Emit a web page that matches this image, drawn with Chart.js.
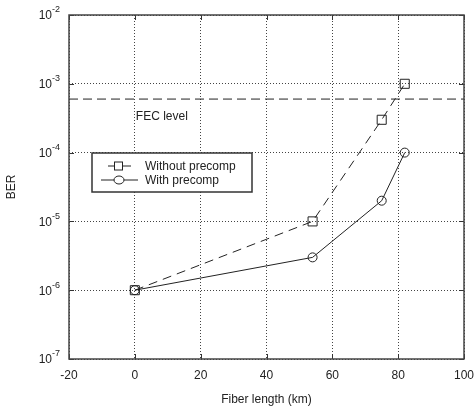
<!DOCTYPE html>
<html>
<head>
<meta charset="utf-8">
<script src="https://cdn.jsdelivr.net/npm/chart.js@4"></script>
<style>
  html, body { margin: 0; padding: 0; background: #fff; }
  canvas { display: block; }
</style>
</head>
<body>
<canvas id="berChart" width="476" height="410"></canvas>
<script>
// data
var fiberLength = [0, 54, 75, 82];
var berWithout = [1e-6, 1e-5, 3e-4, 1e-3];
var berWith = [1e-6, 3e-6, 2e-5, 1e-4];
var fecLevel = 6e-4;
var fecRange = [-20, 100];
var xTicks = [-20, 0, 20, 40, 60, 80, 100];
var yExponents = [-7, -6, -5, -4, -3, -2];

var FONT = "'Liberation Sans', Arial, sans-serif";
var INK = '#222';

function toPoints(xs, ys) {
  var pts = [];
  for (var i = 0; i < xs.length; i++) {
    pts.push({ x: xs[i], y: ys[i] });
  }
  return pts;
}

// frame, inward tick marks, 10^n labels, FEC text and legend box
var decorPlugin = {
  id: 'decor',
  afterDraw: function (chart) {
    var ctx = chart.ctx;
    var a = chart.chartArea;
    var xs = chart.scales.x;
    var ys = chart.scales.y;
    ctx.save();

    // tick marks
    ctx.strokeStyle = '#333';
    ctx.lineWidth = 1;
    ctx.beginPath();
    xTicks.forEach(function (t) {
      var px = Math.round(xs.getPixelForValue(t)) + 0.5;
      ctx.moveTo(px, a.top); ctx.lineTo(px, a.top + 5);
      ctx.moveTo(px, a.bottom); ctx.lineTo(px, a.bottom - 5);
    });
    yExponents.forEach(function (e) {
      var py = Math.round(ys.getPixelForValue(Math.pow(10, e))) + 0.5;
      ctx.moveTo(a.left, py); ctx.lineTo(a.left + 5, py);
      ctx.moveTo(a.right, py); ctx.lineTo(a.right - 5, py);
    });
    ctx.stroke();

    // frame
    ctx.strokeStyle = '#444';
    ctx.lineWidth = 1.5;
    ctx.strokeRect(a.left, a.top, a.right - a.left, a.bottom - a.top);

    // y tick labels as 10 with superscript
    ctx.fillStyle = INK;
    ctx.textBaseline = 'middle';
    ctx.textAlign = 'left';
    yExponents.forEach(function (e) {
      var py = ys.getPixelForValue(Math.pow(10, e));
      ctx.font = '12px ' + FONT;
      var wBase = ctx.measureText('10').width;
      ctx.font = '9px ' + FONT;
      var sup = String(e);
      var wSup = ctx.measureText(sup).width;
      var right = a.left - 9;
      var x0 = right - wBase - wSup;
      ctx.font = '12px ' + FONT;
      ctx.fillText('10', x0, py + 1);
      ctx.font = '9px ' + FONT;
      ctx.fillText(sup, x0 + wBase, py - 5);
    });

    // FEC level text
    var fecDs = chart.data.datasets[2];
    ctx.font = '12px ' + FONT;
    ctx.fillStyle = INK;
    ctx.textAlign = 'left';
    ctx.fillText(fecDs.label, xs.getPixelForValue(0) + 1, ys.getPixelForValue(fecLevel) + 18);

    // legend box
    var bx = 92, by = 153, bw = 160, bh = 39;
    ctx.fillStyle = '#fff';
    ctx.fillRect(bx, by, bw, bh);
    ctx.strokeStyle = '#333';
    ctx.lineWidth = 1.5;
    ctx.strokeRect(bx, by, bw, bh);
    var rows = [0, 1];
    rows.forEach(function (di, i) {
      var ds = chart.data.datasets[di];
      var cy = by + 13 + i * 14;
      ctx.strokeStyle = INK;
      ctx.lineWidth = 1;
      ctx.beginPath();
      if (ds.borderDash && ds.borderDash.length) {
        ctx.moveTo(108, cy); ctx.lineTo(114, cy);
        ctx.moveTo(123, cy); ctx.lineTo(131, cy);
      } else {
        ctx.moveTo(101, cy); ctx.lineTo(138, cy);
      }
      ctx.stroke();
      ctx.fillStyle = '#fff';
      if (ds.pointStyle === 'rect') {
        ctx.fillRect(114, cy - 4.5, 9, 9);
        ctx.strokeRect(114.5, cy - 4, 8, 8);
      } else {
        ctx.beginPath();
        ctx.ellipse(119, cy, 5, 4, 0, 0, Math.PI * 2);
        ctx.fill();
        ctx.stroke();
      }
      ctx.fillStyle = INK;
      ctx.font = '12px ' + FONT;
      ctx.textBaseline = 'middle';
      ctx.fillText(ds.label, 145, cy + 1);
    });

    ctx.restore();
  }
};

var ctx = document.getElementById('berChart').getContext('2d');

var berChart = new Chart(ctx, {
  type: 'line',
  data: {
    datasets: [
      {
        label: 'Without precomp',
        data: toPoints(fiberLength, berWithout),
        borderColor: INK,
        borderWidth: 1,
        borderDash: [9, 6],
        pointStyle: 'rect',
        pointRadius: 6.4,
        pointBorderWidth: 1,
        pointBorderColor: INK,
        pointBackgroundColor: 'rgba(0,0,0,0)',
        tension: 0
      },
      {
        label: 'With precomp',
        data: toPoints(fiberLength, berWith),
        borderColor: INK,
        borderWidth: 1,
        pointStyle: 'circle',
        pointRadius: 4.5,
        pointBorderWidth: 1,
        pointBorderColor: INK,
        pointBackgroundColor: 'rgba(0,0,0,0)',
        tension: 0
      },
      {
        label: 'FEC level',
        data: toPoints(fecRange, [fecLevel, fecLevel]),
        borderColor: INK,
        borderWidth: 1,
        borderDash: [9, 5],
        pointRadius: 0
      }
    ]
  },
  options: {
    responsive: false,
    animation: false,
    layout: {
      padding: { left: 0, right: 12, top: 15, bottom: 0 }
    },
    plugins: {
      legend: { display: false },
      tooltip: { enabled: false }
    },
    scales: {
      x: {
        type: 'linear',
        min: -20,
        max: 100,
        afterBuildTicks: function (scale) {
          scale.ticks = xTicks.map(function (v) { return { value: v }; });
        },
        afterFit: function (scale) {
          scale.height = 51;
          scale.paddingLeft = 0;
          scale.paddingRight = 0;
        },
        grid: {
          color: '#444',
          lineWidth: 1,
          drawTicks: false
        },
        border: { display: false },
        ticks: {
          padding: 9,
          color: INK,
          font: { family: FONT, size: 12 }
        },
        title: {
          display: true,
          text: 'Fiber length (km)',
          color: INK,
          font: { family: FONT, size: 12 },
          padding: { top: 0, bottom: 3 }
        }
      },
      y: {
        type: 'logarithmic',
        min: 1e-7,
        max: 1e-2,
        afterBuildTicks: function (scale) {
          scale.ticks = yExponents.map(function (e) { return { value: Math.pow(10, e) }; });
        },
        afterFit: function (scale) {
          scale.width = 69;
          scale.paddingTop = 0;
          scale.paddingBottom = 0;
        },
        grid: {
          color: '#444',
          lineWidth: 1,
          drawTicks: false
        },
        border: { display: false },
        ticks: { display: false },
        title: {
          display: true,
          text: 'BER',
          color: INK,
          font: { family: FONT, size: 12 },
          padding: { top: 4, bottom: 0 }
        }
      }
    }
  },
  plugins: [decorPlugin]
});

// dotted grid lines
berChart.options.scales.x.border.dash = [1, 2];
berChart.options.scales.y.border.dash = [1, 2];
berChart.update();
</script>
</body>
</html>
